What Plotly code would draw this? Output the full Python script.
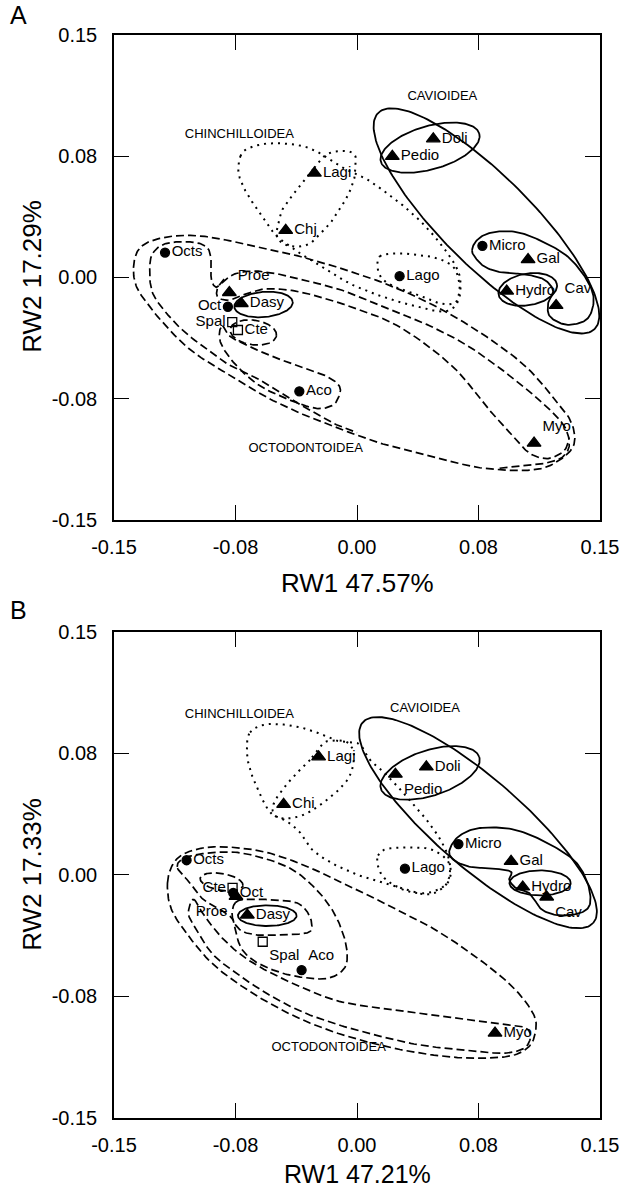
import numpy as np
import plotly.graph_objects as go

# ---------------- Panel A : taxa ----------------
A_TAXA = ["Octs", "Proe", "Oct", "Dasy", "Spal", "Cte", "Aco", "Chj", "Lagi", "Lago",
          "Doli", "Pedio", "Micro", "Gal", "Hydro", "Cav", "Myo"]
A_RW1 = [-0.1185, -0.0788, -0.0797, -0.0714, -0.0770, -0.0735, -0.0356, -0.0440, -0.0263, 0.0263,
         0.0471, 0.0218, 0.0774, 0.1056, 0.0924, 0.1229, 0.1093]
A_RW2 = [0.0154, -0.0093, -0.0181, -0.0161, -0.0276, -0.0325, -0.0704, 0.0292, 0.0646, 0.0008,
         0.0858, 0.0749, 0.0196, 0.0111, -0.0084, -0.0173, -0.1025]
A_SYM = ["circle", "triangle-up", "circle", "triangle-up", "square-open", "square-open", "circle",
         "triangle-up", "triangle-up", "circle", "triangle-up", "triangle-up", "circle",
         "triangle-up", "triangle-up", "triangle-up", "triangle-up"]
A_POS = ["middle right", "top right", "middle left", "middle right", "middle left", "middle right",
         "middle right", "middle right", "middle right", "middle right", "middle right",
         "middle right", "middle right", "middle right", "middle right", "top right", "top right"]

# ---------------- Panel B : taxa ----------------
B_TAXA = ["Octs", "Cte", "Oct", "Proe", "Dasy", "Spal", "Aco", "Chi", "Lagi", "Lago",
          "Doli", "Pedio", "Micro", "Gal", "Hydro", "Cav", "Myo"]
B_RW1 = [-0.1052, -0.0768, -0.0764, -0.0747, -0.0677, -0.0582, -0.0342, -0.0453, -0.0237, 0.0296,
         0.0428, 0.0237, 0.0626, 0.0951, 0.1023, 0.1171, 0.0852]
B_RW2 = [0.0091, -0.0080, -0.0111, -0.0132, -0.0247, -0.0412, -0.0587, 0.0436, 0.0729, 0.0039,
         0.0667, 0.0622, 0.0191, 0.0084, -0.0074, -0.0136, -0.0976]
B_SYM = ["circle", "square-open", "circle", "triangle-up", "triangle-up", "square-open", "circle",
         "triangle-up", "triangle-up", "circle", "triangle-up", "triangle-up", "circle",
         "triangle-up", "triangle-up", "triangle-up", "triangle-up"]
B_POS = ["middle right", "middle left", "middle right", "bottom left", "middle right", "bottom right",
         "top right", "middle right", "middle right", "middle right", "middle right",
         "bottom right", "middle right", "middle right", "middle right", "bottom right",
         "middle right"]

# ---------------- group labels ----------------
GROUPS = ["CAVIOIDEA", "CHINCHILLOIDEA", "OCTODONTOIDEA"]
A_GROUP_X = [0.0527, -0.0726, -0.0317]
A_GROUP_Y = [0.1115, 0.0883, -0.1058]
B_GROUP_X = [0.0420, -0.0726, -0.0175]
B_GROUP_Y = [0.1027, 0.0986, -0.1066]

# ---------------- axes ----------------
TICK_VALS = [-0.15, -0.075, 0.0, 0.075, 0.15]
TICK_TEXT = ["-0.15", "-0.08", "0.00", "0.08", "0.15"]
A_XTITLE, A_YTITLE = "RW1 47.57%", "RW2 17.29%"
B_XTITLE, B_YTITLE = "RW1 47.21%", "RW2 17.33%"

# ---------------- ellipses: (cx, cy, a, b, angle_deg, style) ----------------
A_ELLIPSES = [
    (0.0799, 0.0350, 0.0945, 0.0278, -45, "solid"),   # Cavioidea
    (0.0451, 0.0803, 0.0316, 0.0134, 16, "solid"),    # Doli-Pedio
    (0.1054, -0.0074, 0.0183, 0.0098, 10, "solid"),   # Hydro
    (-0.0577, -0.0167, 0.0181, 0.0078, 5, "solid"),   # Dasy
    (-0.0640, -0.0340, 0.0144, 0.0076, -8, "dash"),   # Cte
]
B_ELLIPSES = [
    (0.0747, 0.0323, 0.0943, 0.0272, -41, "solid"),
    (0.0451, 0.0630, 0.0319, 0.0140, 18, "solid"),
    (0.1130, -0.0049, 0.0189, 0.0077, 0, "solid"),
    (-0.0554, -0.0251, 0.0181, 0.0064, 0, "solid"),
    (-0.0836, -0.0043, 0.0134, 0.0052, -10, "dash"),
]

# ---------------- outlines (anchor points in RW units) ----------------
A_CAV_INNER_X = [0.071, 0.075, 0.084, 0.099, 0.115, 0.130, 0.141, 0.146, 0.144, 0.138, 0.128, 0.119,
                 0.118, 0.121, 0.115, 0.103, 0.090, 0.080, 0.074]
A_CAV_INNER_Y = [0.017, 0.024, 0.028, 0.028, 0.022, 0.013, 0.000, -0.012, -0.023, -0.028, -0.029,
                 -0.024, -0.016, -0.008, -0.001, 0.002, 0.003, 0.006, 0.011]
A_CHI_OUTER_X = [-0.072, -0.067, -0.054, -0.037, -0.025, -0.011, 0.004, 0.016, 0.029, 0.041, 0.053,
                 0.062, 0.064, 0.061, 0.053, 0.037, 0.016, -0.004, -0.017, -0.029, -0.041, -0.050,
                 -0.060, -0.068, -0.073]
A_CHI_OUTER_Y = [0.075, 0.080, 0.083, 0.082, 0.078, 0.069, 0.062, 0.054, 0.044, 0.033, 0.019, 0.005,
                 -0.007, -0.017, -0.021, -0.018, -0.012, -0.004, 0.004, 0.011, 0.019, 0.026, 0.040,
                 0.052, 0.064]
A_CHI_INNER_X = [-0.027, -0.033, -0.039, -0.046, -0.049, -0.050, -0.046, -0.037, -0.029, -0.023,
                 -0.017, -0.011, -0.006, -0.002, -0.001, -0.001, -0.005, -0.013, -0.019, -0.024]
A_CHI_INNER_Y = [0.067, 0.060, 0.052, 0.042, 0.031, 0.027, 0.021, 0.019, 0.021, 0.027, 0.033, 0.042,
                 0.050, 0.060, 0.068, 0.075, 0.078, 0.078, 0.076, 0.071]
A_LAGO_X = [0.014, 0.025, 0.037, 0.049, 0.059, 0.063, 0.063, 0.060, 0.051, 0.041, 0.029, 0.018, 0.013]
A_LAGO_Y = [0.013, 0.015, 0.014, 0.012, 0.007, -0.002, -0.010, -0.016, -0.016, -0.012, -0.008,
            -0.003, 0.004]
A_OCT_OUTER_X = [-0.138, -0.135, -0.126, -0.109, -0.091, -0.066, -0.039, -0.011, 0.018, 0.047, 0.076,
                 0.103, 0.121, 0.132, 0.134, 0.125, 0.109, 0.078, 0.047, 0.016, -0.015, -0.035,
                 -0.056, -0.074, -0.091, -0.105, -0.118, -0.128, -0.136]
A_OCT_OUTER_Y = [0.006, 0.017, 0.023, 0.026, 0.025, 0.020, 0.014, 0.006, -0.004, -0.017, -0.034,
                 -0.054, -0.074, -0.089, -0.103, -0.113, -0.119, -0.118, -0.111, -0.103, -0.092,
                 -0.084, -0.074, -0.063, -0.053, -0.043, -0.030, -0.018, -0.006]
A_OCT_HOOK_X = [0.088, 0.109, 0.120, 0.127, 0.131, 0.128, 0.115, 0.092, 0.068, 0.043, 0.018, -0.006,
                -0.027, -0.048, -0.064, -0.076, -0.083, -0.087, -0.090, -0.090, -0.093, -0.103,
                -0.118, -0.126, -0.128, -0.126, -0.116, -0.105, -0.093, -0.081, -0.064, -0.048,
                -0.031, -0.015, 0.000]
A_OCT_HOOK_Y = [-0.118, -0.116, -0.114, -0.111, -0.104, -0.092, -0.078, -0.059, -0.042, -0.029,
                -0.019, -0.009, -0.003, 0.002, 0.004, 0.002, -0.003, -0.006, -0.001, 0.011, 0.019,
                0.022, 0.021, 0.015, 0.005, -0.010, -0.024, -0.035, -0.044, -0.053, -0.061, -0.071,
                -0.081, -0.090, -0.096]
A_OCT_MYO_X = [-0.082, -0.086, -0.086, -0.079, -0.068, -0.056, -0.035, -0.004, 0.027, 0.059, 0.080,
               0.097, 0.107, 0.118, 0.128, 0.131]
A_OCT_MYO_Y = [-0.001, -0.006, -0.012, -0.014, -0.010, -0.007, -0.009, -0.018, -0.031, -0.055,
               -0.080, -0.099, -0.109, -0.112, -0.107, -0.099]
A_ACO_X = [-0.083, -0.079, -0.070, -0.052, -0.035, -0.019, -0.011, -0.011, -0.015, -0.025, -0.041,
           -0.060, -0.074, -0.083, -0.085]
A_ACO_Y = [-0.030, -0.036, -0.041, -0.049, -0.055, -0.061, -0.067, -0.073, -0.079, -0.081, -0.076,
           -0.067, -0.055, -0.043, -0.035]

B_CAV_INNER_X = [0.057, 0.063, 0.076, 0.097, 0.117, 0.134, 0.142, 0.144, 0.139, 0.126, 0.115, 0.110,
                 0.106, 0.098, 0.094, 0.095, 0.084, 0.070, 0.060]
B_CAV_INNER_Y = [0.015, 0.024, 0.029, 0.028, 0.020, 0.009, -0.004, -0.017, -0.023, -0.025, -0.022,
                 -0.016, -0.011, -0.008, -0.003, 0.002, 0.004, 0.005, 0.009]
B_CHI_OUTER_X = [-0.066, -0.056, -0.039, -0.025, -0.013, 0.001, 0.008, 0.018, 0.031, 0.043, 0.052,
                 0.057, 0.057, 0.053, 0.043, 0.027, 0.006, -0.013, -0.027, -0.035, -0.043, -0.053,
                 -0.060, -0.066, -0.068]
B_CHI_OUTER_Y = [0.088, 0.093, 0.092, 0.088, 0.083, 0.081, 0.071, 0.062, 0.048, 0.034, 0.021, 0.009,
                 -0.001, -0.008, -0.012, -0.008, -0.002, 0.006, 0.015, 0.026, 0.033, 0.038, 0.050,
                 0.065, 0.077]
B_CHI_INNER_X = [-0.029, -0.039, -0.048, -0.052, -0.050, -0.041, -0.031, -0.019, -0.008, -0.003,
                 -0.002, -0.006, -0.015, -0.021]
B_CHI_INNER_Y = [0.071, 0.061, 0.050, 0.042, 0.036, 0.035, 0.038, 0.046, 0.056, 0.065, 0.075, 0.082,
                 0.083, 0.081]
B_LAGO_X = [0.013, 0.018, 0.031, 0.045, 0.055, 0.058, 0.055, 0.044, 0.031, 0.018, 0.013]
B_LAGO_Y = [0.012, 0.016, 0.017, 0.016, 0.010, 0.002, -0.006, -0.011, -0.010, -0.003, 0.005]
B_OCT_OUTER_X = [-0.117, -0.114, -0.107, -0.093, -0.076, -0.056, -0.035, -0.015, 0.016, 0.047, 0.074,
                 0.096, 0.109, 0.110, 0.105, 0.093, 0.068, 0.039, 0.010, -0.017, -0.041, -0.066,
                 -0.089, -0.106, -0.115]
B_OCT_OUTER_Y = [-0.005, 0.006, 0.013, 0.017, 0.017, 0.014, 0.007, -0.002, -0.017, -0.033, -0.051,
                 -0.069, -0.086, -0.098, -0.107, -0.112, -0.113, -0.110, -0.104, -0.096, -0.086,
                 -0.072, -0.055, -0.035, -0.020]
B_OCT_ACO_X = [-0.111, -0.105, -0.087, -0.068, -0.043, -0.027, -0.015, -0.008, -0.006, -0.009, -0.019,
               -0.035, -0.048, -0.062, -0.071, -0.075, -0.077, -0.085, -0.095, -0.103]
B_OCT_ACO_Y = [0.005, 0.011, 0.014, 0.013, 0.005, -0.007, -0.022, -0.038, -0.051, -0.059, -0.064,
               -0.063, -0.060, -0.054, -0.046, -0.035, -0.027, -0.021, -0.015, -0.005]
B_OCT_MYO_X = [-0.101, -0.095, -0.085, -0.072, -0.056, -0.035, -0.011, 0.020, 0.051, 0.082, 0.103,
               0.107, 0.103, 0.090, 0.066, 0.039, 0.012, -0.013, -0.035, -0.056, -0.074, -0.089,
               -0.099, -0.104]
B_OCT_MYO_Y = [-0.015, -0.024, -0.037, -0.049, -0.059, -0.069, -0.078, -0.083, -0.087, -0.091,
               -0.094, -0.100, -0.107, -0.110, -0.108, -0.105, -0.099, -0.092, -0.084, -0.073,
               -0.061, -0.049, -0.034, -0.024]
B_DASY_X = [-0.075, -0.066, -0.043, -0.034, -0.029, -0.028, -0.032, -0.048, -0.062, -0.072, -0.077]
B_DASY_Y = [-0.017, -0.015, -0.016, -0.019, -0.026, -0.033, -0.036, -0.037, -0.037, -0.034, -0.026]

# (x, y, style, closed)
A_OUTLINES = [
    (A_CAV_INNER_X, A_CAV_INNER_Y, "solid", True),
    (A_CHI_OUTER_X, A_CHI_OUTER_Y, "dot", True),
    (A_CHI_INNER_X, A_CHI_INNER_Y, "dot", True),
    (A_LAGO_X, A_LAGO_Y, "dot", True),
    (A_OCT_OUTER_X, A_OCT_OUTER_Y, "dash", True),
    (A_OCT_HOOK_X, A_OCT_HOOK_Y, "dash", False),
    (A_OCT_MYO_X, A_OCT_MYO_Y, "dash", False),
    (A_ACO_X, A_ACO_Y, "dash", True),
]
B_OUTLINES = [
    (B_CAV_INNER_X, B_CAV_INNER_Y, "solid", True),
    (B_CHI_OUTER_X, B_CHI_OUTER_Y, "dot", True),
    (B_CHI_INNER_X, B_CHI_INNER_Y, "dot", True),
    (B_LAGO_X, B_LAGO_Y, "dot", True),
    (B_OCT_OUTER_X, B_OCT_OUTER_Y, "dash", True),
    (B_OCT_ACO_X, B_OCT_ACO_Y, "dash", True),
    (B_OCT_MYO_X, B_OCT_MYO_Y, "dash", True),
    (B_DASY_X, B_DASY_Y, "dash", True),
]

LINE_STYLES = {
    "solid": dict(color="black", width=1.8),
    "dash": dict(color="black", width=1.7, dash="8px,4px"),
    "dot": dict(color="black", width=2.0, dash="2px,5px"),
}
FONT = "Liberation Sans, Arial, sans-serif"


def smooth(xs, ys, closed=True, n=14):
    p = np.column_stack([xs, ys]).astype(float)
    if closed:
        ext = np.vstack([p[-1], p, p[0], p[1]])
        segs = len(p)
    else:
        ext = np.vstack([p[0], p, p[-1]])
        segs = len(p) - 1
    t = np.linspace(0, 1, n, endpoint=False)[:, None]
    out = []
    for i in range(segs):
        p0, p1, p2, p3 = ext[i], ext[i + 1], ext[i + 2], ext[i + 3]
        out.append(0.5 * (2 * p1 + (-p0 + p2) * t + (2 * p0 - 5 * p1 + 4 * p2 - p3) * t ** 2
                          + (-p0 + 3 * p1 - 3 * p2 + p3) * t ** 3))
    out.append(ext[segs + 1][None, :])
    q = np.vstack(out)
    return q[:, 0], q[:, 1]


def ellipse(cx, cy, a, b, ang):
    t = np.linspace(0, 2 * np.pi, 181)
    th = np.deg2rad(ang)
    x = cx + a * np.cos(t) * np.cos(th) - b * np.sin(t) * np.sin(th)
    y = cy + a * np.cos(t) * np.sin(th) + b * np.sin(t) * np.cos(th)
    return x, y


fig = go.Figure()


def add_panel(xa, ya, ellipses, outlines, taxa, rw1, rw2, sym, pos, gx, gy):
    for (cx, cy, a, b, ang, st) in ellipses:
        x, y = ellipse(cx, cy, a, b, ang)
        fig.add_trace(go.Scatter(x=x, y=y, mode="lines", line=LINE_STYLES[st],
                                 xaxis=xa, yaxis=ya, hoverinfo="skip", showlegend=False))
    for (ox, oy, st, closed) in outlines:
        x, y = smooth(ox, oy, closed)
        fig.add_trace(go.Scatter(x=x, y=y, mode="lines", line=LINE_STYLES[st],
                                 xaxis=xa, yaxis=ya, hoverinfo="skip", showlegend=False))
    sizes = [12 if s.startswith("triangle") else 9 for s in sym]
    fig.add_trace(go.Scatter(
        x=rw1, y=rw2, mode="markers+text", text=taxa, textposition=pos,
        textfont=dict(family=FONT, size=15, color="black"),
        marker=dict(symbol=sym, size=sizes, color="black", opacity=1,
                    line=dict(color="black", width=1.3)),
        xaxis=xa, yaxis=ya, showlegend=False))
    fig.add_trace(go.Scatter(
        x=gx, y=gy, mode="text", text=GROUPS, textposition="middle center",
        textfont=dict(family=FONT, size=13, color="black"),
        xaxis=xa, yaxis=ya, hoverinfo="skip", showlegend=False))


add_panel("x", "y", A_ELLIPSES, A_OUTLINES, A_TAXA, A_RW1, A_RW2, A_SYM, A_POS, A_GROUP_X, A_GROUP_Y)
add_panel("x2", "y2", B_ELLIPSES, B_OUTLINES, B_TAXA, B_RW1, B_RW2, B_SYM, B_POS, B_GROUP_X, B_GROUP_Y)

ax_common = dict(range=[-0.15, 0.15], tickvals=TICK_VALS, ticktext=TICK_TEXT, ticks="inside",
                 ticklen=15, tickwidth=1.3, tickcolor="black", showline=True, linecolor="black",
                 linewidth=1.5, mirror="ticks", showgrid=False, zeroline=False, automargin=False,
                 tickfont=dict(family=FONT, size=20, color="black"))


def ann(text, x, y, size, angle=0):
    return dict(text=text, x=x, y=y, xref="paper", yref="paper", showarrow=False,
                xanchor="center", yanchor="middle", textangle=angle,
                font=dict(family=FONT, size=size, color="black"))


fig.update_layout(
    width=623, height=1191,
    margin=dict(l=114, r=23, t=35, b=73, autoexpand=False),
    paper_bgcolor="white", plot_bgcolor="white",
    xaxis=dict(ax_common, anchor="y", domain=[0, 1], ticklabelstandoff=8),
    yaxis=dict(ax_common, anchor="x", domain=[0.5522, 1.0], ticklabelstandoff=11),
    xaxis2=dict(ax_common, anchor="y2", domain=[0, 1], ticklabelstandoff=8),
    yaxis2=dict(ax_common, anchor="x2", domain=[0.0, 0.4488], ticklabelstandoff=11),
    annotations=[
        ann("A", -0.197, 1.0185, 25),
        ann("B", -0.197, 0.469, 25),
        ann(A_XTITLE, 0.5, 0.494, 26),
        ann(B_XTITLE, 0.5, -0.0515, 25),
        ann(A_YTITLE, -0.169, 0.7775, 26, -90),
        ann(B_YTITLE, -0.169, 0.2253, 26, -90),
    ],
)

fig.write_html("out.html", config={"displayModeBar": False},
               post_script="document.body.style.margin='0';"
                           "document.body.style.overflow='hidden';")
